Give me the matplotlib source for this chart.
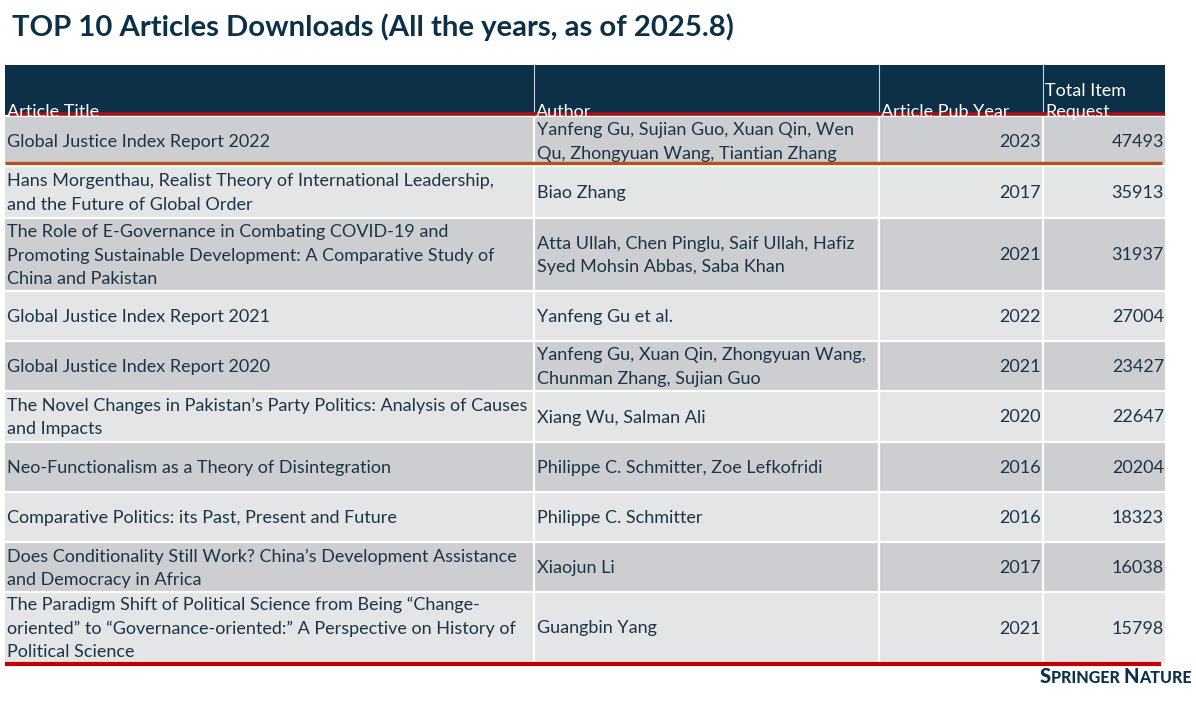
import matplotlib
matplotlib.use("Agg")
import matplotlib.pyplot as plt
from matplotlib.patches import Rectangle

# ---------------- data ----------------
title_text = "TOP 10 Articles Downloads (All the years, as of 2025.8)"
headers = ["Article Title", "Author", "Article Pub Year", "Total Item\nRequest"]
article_titles = [
    "Global Justice Index Report 2022",
    "Hans Morgenthau, Realist Theory of International Leadership,\nand the Future of Global Order",
    "The Role of E-Governance in Combating COVID-19 and\nPromoting Sustainable Development: A Comparative Study of\nChina and Pakistan",
    "Global Justice Index Report 2021",
    "Global Justice Index Report 2020",
    "The Novel Changes in Pakistan\u2019s Party Politics: Analysis of Causes\nand Impacts",
    "Neo-Functionalism as a Theory of Disintegration",
    "Comparative Politics: its Past, Present and Future",
    "Does Conditionality Still Work? China\u2019s Development Assistance\nand Democracy in Africa",
    "The Paradigm Shift of Political Science from Being \u201cChange-\noriented\u201d to \u201cGovernance-oriented:\u201d A Perspective on History of\nPolitical Science",
]
authors = [
    "Yanfeng Gu, Sujian Guo, Xuan Qin, Wen\nQu, Zhongyuan Wang, Tiantian Zhang",
    "Biao Zhang",
    "Atta Ullah, Chen Pinglu, Saif Ullah, Hafiz\nSyed Mohsin Abbas, Saba Khan",
    "Yanfeng Gu et al.",
    "Yanfeng Gu, Xuan Qin, Zhongyuan Wang,\nChunman Zhang, Sujian Guo",
    "Xiang Wu, Salman Ali",
    "Philippe C. Schmitter, Zoe Lefkofridi",
    "Philippe C. Schmitter",
    "Xiaojun Li",
    "Guangbin Yang",
]
pub_years = [2023, 2017, 2021, 2022, 2021, 2020, 2016, 2016, 2017, 2021]
item_requests = [47493, 35913, 31937, 27004, 23427, 22647, 20204, 18323, 16038, 15798]

# ---------------- layout ----------------
W, H = 1196, 714
col_edges = [5, 534, 879, 1043, 1165]
header_top, header_bot = 65, 115
row_tops = [116, 166, 218, 291, 341, 391, 442, 492, 542, 592]
table_bot = 663

NAVY = "#0b3048"
DARK = "#cdced1"
LIGHT = "#e4e5e7"
TXT = "#1d3446"
FONT = "Lato"
FS = 13.0
LS = 1.55

fig = plt.figure(figsize=(W / 100, H / 100), dpi=100)
ax = fig.add_axes([0, 0, 1, 1])
ax.set_xlim(0, W)
ax.set_ylim(H, 0)
ax.axis("off")
fig.patch.set_facecolor("white")

# title
ax.text(12, 27, title_text, fontsize=21.1, fontweight="bold", color=NAVY,
        family=FONT, va="center", ha="left")

# header
ax.add_patch(Rectangle((col_edges[0], header_top), col_edges[-1] - col_edges[0],
                       header_bot - header_top, facecolor=NAVY, edgecolor="none"))
for i, h in enumerate(headers):
    ax.text(col_edges[i] + 2, header_bot + 5, h, fontsize=FS, color="white",
            family=FONT, va="bottom", ha="left", linespacing=1.4)
for x in col_edges[1:-1]:
    ax.plot([x, x], [header_top, header_bot], color="#c9d3dc", lw=0.8)

# rows
row_bots = row_tops[1:] + [table_bot]
for r in range(len(article_titles)):
    y0, y1 = row_tops[r], row_bots[r]
    fc = DARK if r % 2 == 0 else LIGHT
    ax.add_patch(Rectangle((col_edges[0], y0), col_edges[-1] - col_edges[0],
                           y1 - y0, facecolor=fc, edgecolor="none"))
    yc = (y0 + y1) / 2 + 1
    ax.text(col_edges[0] + 2, yc, article_titles[r], fontsize=FS, color=TXT,
            family=FONT, va="center", ha="left", linespacing=LS)
    ax.text(col_edges[1] + 3, yc, authors[r], fontsize=FS, color=TXT,
            family=FONT, va="center", ha="left", linespacing=LS)
    ax.text(col_edges[3] - 2, yc, str(pub_years[r]), fontsize=FS, color=TXT,
            family=FONT, va="center", ha="right")
    ax.text(col_edges[4] - 1, yc, str(item_requests[r]), fontsize=FS, color=TXT,
            family=FONT, va="center", ha="right")
    ax.plot([col_edges[0], col_edges[-1]], [y0 - 0.5, y0 - 0.5], color="white", lw=1.6)

for x in col_edges[1:-1]:
    ax.plot([x, x], [row_tops[0], table_bot], color="white", lw=1.6)

# accent lines
ax.plot([10, 1165], [114, 114], color="#a3111b", lw=2.6, solid_capstyle="butt")
ax.plot([5, 1162], [163, 163], color="#b4521f", lw=2.4, solid_capstyle="butt")
ax.plot([5, 1161], [663.5, 663.5], color="#c00000", lw=3.0, solid_capstyle="butt")

# logo
t1 = ax.text(1040, 683, "S", fontsize=14.5, fontweight="black", color=NAVY,
             family=FONT, va="baseline", ha="left")
t2 = ax.annotate("PRINGER ", xy=(1, 0), xycoords=t1, fontsize=11.5,
                 fontweight="black", color=NAVY, family=FONT, va="bottom", ha="left")
t3 = ax.annotate("N", xy=(1, 0), xycoords=t2, fontsize=14.5, fontweight="black",
                 color=NAVY, family=FONT, va="bottom", ha="left")
t4 = ax.annotate("ATURE", xy=(1, 0), xycoords=t3, fontsize=11.5, fontweight="black",
                 color=NAVY, family=FONT, va="bottom", ha="left")

fig.savefig("out.png", dpi=100, facecolor="white")
